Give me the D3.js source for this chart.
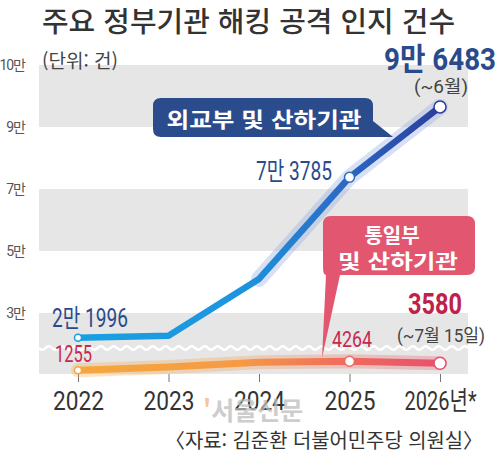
<!DOCTYPE html>
<html lang="ko">
<head>
<meta charset="utf-8">
<title>주요 정부기관 해킹 공격 인지 건수</title>
<script src="https://cdn.jsdelivr.net/npm/d3@7"></script>
<style>
  body { margin: 0; background: #fff; }
  svg { display: block; }
  text { font-family: "Noto Sans CJK KR", "Noto Sans", sans-serif; }
  .num { font-family: Roboto, "Noto Sans CJK KR", sans-serif; }
  .tick text { font-family: Roboto, "Noto Sans CJK KR", sans-serif; font-size: 26px; fill: #333; }
  .tick line { stroke: #777; }
</style>
</head>
<body>
<script>
// data
var years = ["2022", "2023", "2024", "2025", "2026"];
var yearLabels = ["2022", "2023", "2024", "2025", "2026년*"];
var mofa = [21996, 22700, 41000, 73785, 96483];     // 외교부 및 산하기관
var unif = [1255, 2350, 3900, 4264, 3580];          // 통일부 및 산하기관
var yTicks = [30000, 50000, 70000, 90000, 110000];
var yTickLabels = ["3만", "5만", "7만", "9만", "10만"];

var w = 500, h = 453;
var left = 39, right = 468;

var svg = d3.select("body").append("svg")
  .attr("width", w)
  .attr("height", h);

var x = d3.scalePoint().domain(years).range([78, 440]);
var y = d3.scaleLinear().domain([30000, 90000]).range([313, 127]);
// lower part below the break
var yLow = d3.scaleLinear().domain([0, 5000]).range([374, 359]);

// gray bands
var bands = [[90000, 110000], [50000, 70000]];
svg.selectAll("rect.band").data(bands).enter().append("rect")
  .attr("class", "band")
  .attr("x", left)
  .attr("width", right - left)
  .attr("y", function(d) { return y(d[1]); })
  .attr("height", function(d) { return y(d[0]) - y(d[1]); })
  .attr("fill", "#e6e6e6");
svg.append("rect")
  .attr("x", left).attr("width", right - left)
  .attr("y", y(30000)).attr("height", yLow(0) - y(30000))
  .attr("fill", "#e6e6e6");

// wavy break
var wave = d3.range(left, right + 1, 1).map(function(px) {
  return [px, 348 + 1.8 * Math.sin((px - left) / 13 * 2 * Math.PI)];
});
svg.append("path")
  .attr("d", d3.line()(wave))
  .attr("fill", "none").attr("stroke", "#fff").attr("stroke-width", 2.5);

// y tick labels
svg.selectAll("text.ylab").data(yTicks).enter().append("text")
  .attr("class", "ylab num")
  .attr("x", 25)
  .attr("y", function(d) { return y(d) + 5; })
  .attr("text-anchor", "end")
  .attr("font-size", 14)
  .attr("fill", "#555")
  .attr("letter-spacing", -1)
  .text(function(d, i) { return yTickLabels[i]; });

// x axis
var xAxis = d3.axisBottom(x)
  .tickSize(8)
  .tickPadding(10)
  .tickFormat(function(d, i) { return yearLabels[i]; });
var gx = svg.append("g")
  .attr("transform", "translate(0," + 374 + ")")
  .call(xAxis);
gx.select(".domain").remove();
gx.selectAll(".tick text")
  .attr("dy", "0.68em")
  .each(function(d, i) {
    d3.select(this).attr("textLength", i == 4 ? 72 : 51).attr("lengthAdjust", "spacingAndGlyphs");
  });

// gradients
var defs = svg.append("defs");
function grad(id, stops) {
  var g = defs.append("linearGradient").attr("id", id)
    .attr("gradientUnits", "userSpaceOnUse")
    .attr("x1", x("2022")).attr("x2", x("2026")).attr("y1", 0).attr("y2", 0);
  stops.forEach(function(s) {
    g.append("stop").attr("offset", s[0]).attr("stop-color", s[1]);
  });
}
grad("gBlue", [[0, "#1a9fe3"], [0.45, "#1d95de"], [0.72, "#2a6cc6"], [1, "#2b3d9c"]]);
grad("gOrange", [[0, "#f5a83e"], [0.45, "#f59a45"], [0.75, "#ef6a5e"], [1, "#e8506c"]]);

var lineHi = d3.line().x(function(d, i) { return x(years[i]); }).y(function(d) { return y(d); });
var lineLo = d3.line().x(function(d, i) { return x(years[i]); }).y(function(d) { return yLow(d); });

// glow
svg.append("path").datum(mofa.slice(2)).attr("transform", "translate(" + (x(years[2]) - x(years[0])) + ",0)")
  .attr("d", lineHi)
  .attr("fill", "none").attr("stroke", "#8fa6e0").attr("stroke-opacity", 0.35)
  .attr("stroke-width", 16).attr("stroke-linecap", "round").attr("stroke-linejoin", "round");
svg.append("path").datum(unif)
  .attr("d", lineLo)
  .attr("fill", "none").attr("stroke", "url(#gOrange)").attr("stroke-opacity", 0.3)
  .attr("stroke-width", 14).attr("stroke-linecap", "round").attr("stroke-linejoin", "round");

svg.append("path").datum(mofa)
  .attr("d", lineHi)
  .attr("fill", "none").attr("stroke", "url(#gBlue)")
  .attr("stroke-width", 6.5).attr("stroke-linejoin", "round");
svg.append("path").datum(unif)
  .attr("d", lineLo)
  .attr("fill", "none").attr("stroke", "url(#gOrange)")
  .attr("stroke-width", 7).attr("stroke-linejoin", "round");

// dots at 2022, 2025, 2026
var dotIdx = [0, 3, 4];
var dotR = [3.5, 5, 6];
svg.selectAll("circle.hi").data(dotIdx).enter().append("circle")
  .attr("cx", function(i) { return x(years[i]); })
  .attr("cy", function(i) { return y(mofa[i]); })
  .attr("r", function(i, k) { return dotR[k]; })
  .attr("fill", "#fff")
  .attr("stroke", function(i) { return i == 0 ? "#1a9fe3" : i == 3 ? "#2a6cc6" : "#2b3d9c"; })
  .attr("stroke-width", 1.5);
svg.selectAll("circle.lo").data(dotIdx).enter().append("circle")
  .attr("cx", function(i) { return x(years[i]); })
  .attr("cy", function(i) { return yLow(unif[i]); })
  .attr("r", function(i, k) { return dotR[k]; })
  .attr("fill", "#fff")
  .attr("stroke", function(i) { return i == 0 ? "#f5a83e" : i == 3 ? "#ef6a5e" : "#e8506c"; })
  .attr("stroke-width", 1.5);

// value labels
function label(t, px, py, size, color, len, weight, anchor) {
  return svg.append("text")
    .attr("class", "num")
    .attr("x", px).attr("y", py)
    .attr("font-size", size)
    .attr("font-weight", weight || "normal")
    .attr("fill", color)
    .attr("text-anchor", anchor || "start")
    .attr("textLength", len).attr("lengthAdjust", "spacingAndGlyphs")
    .text(t);
}
var navy = "#2b4a8c", crimson = "#c8284e";
label("2만 1996", 52, y(mofa[0]) - 11, 25, navy, 76);
label("7만 3785", 256, y(mofa[3]) + 3, 25, navy, 76);
label("9만 6483", 384, 70, 31, navy, 112, "bold");
label("(~6월)", 414, 93, 18, "#444", 54);
label("1255", 55, yLow(unif[0]) - 8, 24, crimson, 37);
label("4264", 332, yLow(unif[3]) - 14, 22, crimson, 40);
label("3580", 408, 314, 30, "#c0204a", 54, "bold");
label("(~7월 15일)", 397, 342, 18, "#444", 88);

// callout boxes
svg.append("path")
  .attr("d", "M161,98 H365 Q373,98 373,106 V121 L393,137 H161 Q153,137 153,129 V106 Q153,98 161,98 Z")
  .attr("fill", "#2b4c8c");
svg.append("text")
  .attr("x", 264).attr("y", 127)
  .attr("text-anchor", "middle")
  .attr("font-size", 21).attr("font-weight", "bold").attr("fill", "#fff")
  .attr("textLength", 195).attr("lengthAdjust", "spacingAndGlyphs")
  .text("외교부 및 산하기관");

svg.append("path")
  .attr("d", "M331,216 H467 Q475,216 475,224 V267 Q475,275 467,275 H340 L322,358 L326,275 Q323,275 323,267 V224 Q323,216 331,216 Z")
  .attr("fill", "#e2566f");
svg.append("text")
  .attr("x", 392).attr("y", 243)
  .attr("text-anchor", "middle")
  .attr("font-size", 20).attr("font-weight", "bold").attr("fill", "#fff")
  .text("통일부");
svg.append("text")
  .attr("x", 398).attr("y", 269)
  .attr("text-anchor", "middle")
  .attr("font-size", 20).attr("font-weight", "bold").attr("fill", "#fff")
  .attr("textLength", 120).attr("lengthAdjust", "spacingAndGlyphs")
  .text("및 산하기관");

// title, unit, source
svg.append("text")
  .attr("x", 42).attr("y", 32)
  .attr("font-size", 28).attr("font-weight", 500).attr("fill", "#333")
  .attr("textLength", 413).attr("lengthAdjust", "spacingAndGlyphs")
  .text("주요 정부기관 해킹 공격 인지 건수");
svg.append("text")
  .attr("x", 42).attr("y", 68)
  .attr("font-size", 19).attr("fill", "#444")
  .text("(단위: 건)");

// watermark
var wm = svg.append("text")
  .attr("x", 203).attr("y", 420)
  .attr("font-size", 25).attr("font-weight", "bold")
  .attr("opacity", 0.75);
wm.append("tspan").attr("fill", "#f2b47a").text("'");
wm.append("tspan").attr("fill", "#bdbdbd").text("서울신문");

svg.append("text")
  .attr("x", 483).attr("y", 448)
  .attr("text-anchor", "end")
  .attr("font-size", 20).attr("fill", "#333")
  .attr("textLength", 318).attr("lengthAdjust", "spacingAndGlyphs")
  .text("〈자료: 김준환 더불어민주당 의원실〉");
</script>
</body>
</html>
